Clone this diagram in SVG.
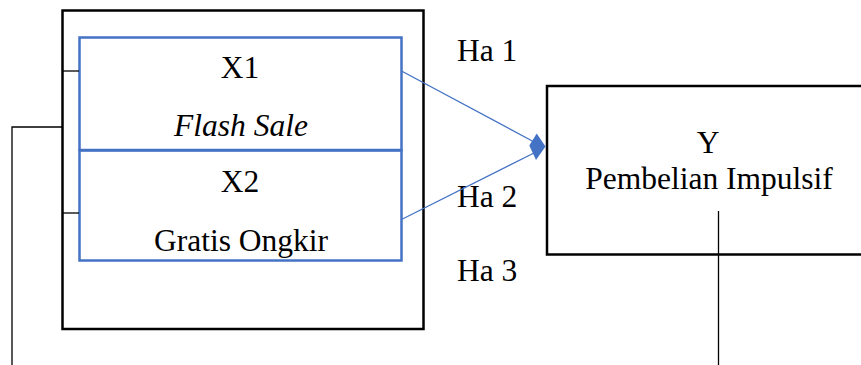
<svg xmlns="http://www.w3.org/2000/svg" width="861" height="365" viewBox="0 0 861 365">
<style>
text{font-family:'Liberation Serif','Tinos','Times New Roman','DejaVu Serif',serif;font-size:31.5px;fill:#000}
.c{text-anchor:middle}
.blk{fill:none;stroke:#000;stroke-width:2.5}
.blue{fill:none;stroke:#4472C4;stroke-width:2.5}
.thin{fill:none;stroke:#000;stroke-width:1.3}
.bl{fill:none;stroke:#4472C4;stroke-width:1.3}
</style>
<defs>
<clipPath id="clip2"><rect x="80" y="150" width="321" height="109"/></clipPath>
</defs>
<rect width="861" height="365" fill="#fff"/>
<g id="outer">
<rect class="blk" x="62.5" y="10.5" width="361" height="318.5"/>
</g>
<g id="x1">
<rect class="blue" x="79.5" y="37.5" width="322" height="112.5"/>
<text class="c" x="240" y="78">X1</text>
<text class="c" x="241" y="136" font-style="italic">Flash Sale</text>
</g>
<g id="x2">
<rect class="blue" x="79.5" y="150.5" width="322" height="110"/>
<text class="c" x="240" y="192">X2</text>
<text class="c" x="241" y="251" clip-path="url(#clip2)">Gratis Ongkir</text>
</g>
<g id="y">
<polyline class="blk" points="870,86 547,86 547,254.5 870,254.5"/>
<text class="c" x="708" y="153">Y</text>
<text class="c" x="709" y="189">Pembelian Impulsif</text>
</g>
<g id="labels">
<text x="457" y="61">Ha 1</text>
<text x="457" y="207">Ha 2</text>
<text x="457" y="281">Ha 3</text>
</g>
<g id="connectors">
<line class="thin" x1="62" y1="71" x2="79" y2="71"/>
<line class="thin" x1="62" y1="213" x2="79" y2="213"/>
<polyline class="thin" points="62,127 12,127 12,365"/>
<line class="thin" x1="718.5" y1="211" x2="718.5" y2="365"/>
<line class="bl" x1="401.5" y1="71" x2="536" y2="143"/>
<line class="bl" x1="401.5" y1="219.5" x2="536" y2="152"/>
<polygon points="529.3,145.5 536.7,133.5 545.5,146.5 536,160" fill="#4472C4"/>
</g>
</svg>
